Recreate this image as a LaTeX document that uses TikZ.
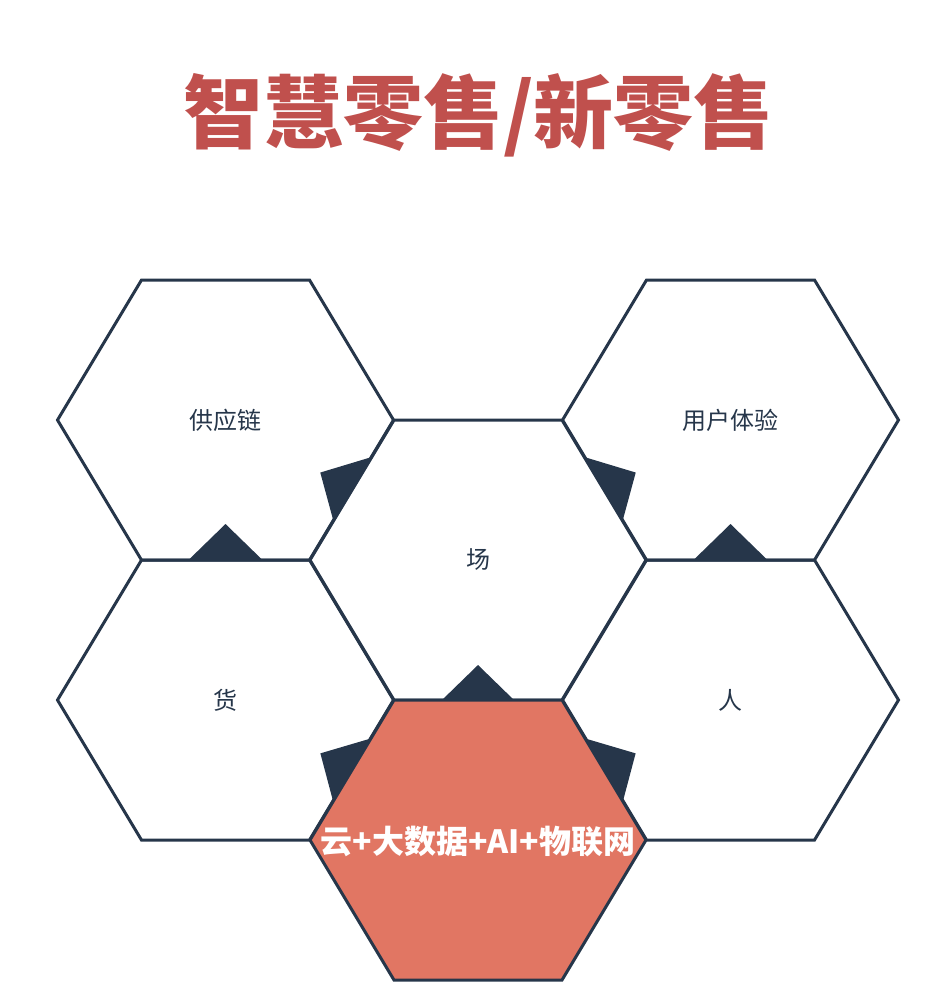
\documentclass[tikz,border=0pt]{standalone}
\usepackage{fontspec}
\setmainfont{Noto Sans CJK SC}
\usetikzlibrary{calc}
\definecolor{mydark}{RGB}{38,54,74}
\definecolor{myred}{RGB}{192,80,77}
\definecolor{mycoral}{RGB}{225,118,99}
\pgfdeclarelayer{background}
\pgfsetlayers{background,main}
\tikzset{
  hexcell/.style={draw=mydark, line width=3pt, line join=miter},
  hotcell/.style={hexcell, fill=mycoral},
  celltext/.style={font=\fontsize{24}{28}\selectfont, text=mydark, inner sep=0pt},
  hottext/.style={font=\fontsize{32}{36}\selectfont\bfseries, text=white, inner sep=0pt},
  titletext/.style={font=\fontsize{80}{90}\selectfont\bfseries, text=myred, inner sep=0pt},
  pointer/.style={fill=mydark}
}
% outline of one cell, drawn round its shifted origin
\newcommand{\hexoutline}{(-168,0) -- (-84,-140) -- (84,-140) -- (168,0) -- (84,140) -- (-84,140) -- cycle}
% triangle on the shared edge, pointing from #1 into #2
\newcommand{\hexarrow}[2]{%
  \coordinate (mid) at ($(#1)!0.5!(#2)$);
  \fill[pointer] ($(mid)!37pt!90:(#2)$) -- ($(mid)!36pt!(#2)$) -- ($(mid)!37pt!-90:(#2)$) -- cycle;
}

\begin{document}
\begin{tikzpicture}[x=1pt, y=-1pt]
  \useasboundingbox (0,0) rectangle (952,990);
  % title
  \node[titletext] (title) at (478.5,115) {智慧零售/新零售};
  % cell labels
  \node[celltext] (supply) at (225.5,420) {供应链};
  \node[celltext] (ux) at (730.5,420) {用户体验};
  \node[celltext] (place) at (478,560) {场};
  \node[celltext] (goods) at (225.5,700) {货};
  \node[celltext] (people) at (730.5,700) {人};
  \node[hottext] (tech) at (478,842) {云+大数据+AI+物联网};
  \begin{pgfonlayer}{background}
    % pointers between neighbouring cells
    \hexarrow{goods}{supply}
    \hexarrow{people}{ux}
    \hexarrow{place}{supply}
    \hexarrow{place}{ux}
    \hexarrow{tech}{place}
    \hexarrow{tech}{goods}
    \hexarrow{tech}{people}
    % honeycomb
    \draw[hexcell, shift={(supply.center)}] \hexoutline;
    \draw[hexcell, shift={(ux.center)}] \hexoutline;
    \draw[hexcell, shift={(place.center)}] \hexoutline;
    \draw[hexcell, shift={(goods.center)}] \hexoutline;
    \draw[hexcell, shift={(people.center)}] \hexoutline;
    \draw[hotcell, shift={(478,840)}] \hexoutline;
  \end{pgfonlayer}
\end{tikzpicture}
\end{document}
